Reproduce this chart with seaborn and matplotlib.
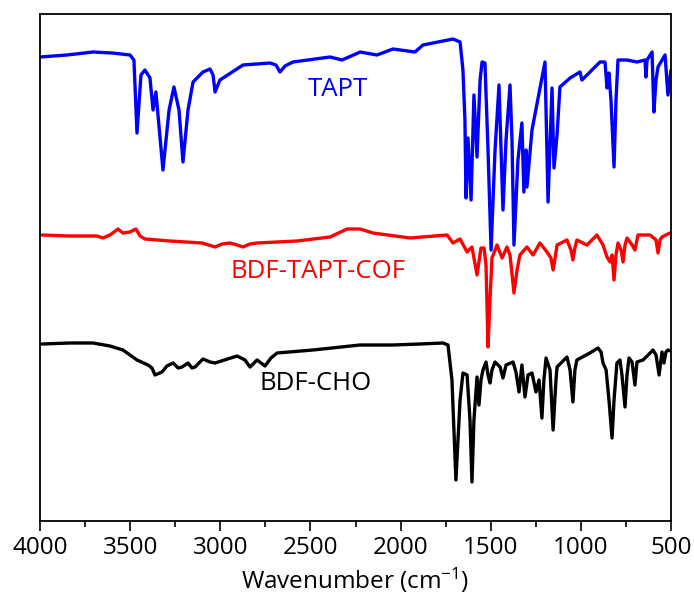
import matplotlib
matplotlib.use('Agg')
import matplotlib.pyplot as plt
import seaborn as sns
import pandas as pd
from matplotlib.ticker import MultipleLocator

# Spektrum verileri (dalga sayisi, bagil siddet)
tapt_wn = [4000, 3850, 3706, 3600, 3501, 3479, 3462, 3440, 3418, 3390, 3373, 3357, 3318, 3284,
           3257, 3229, 3207, 3179, 3151, 3096, 3057, 3040, 3029, 3002, 2874, 2724, 2691, 2669,
           2641, 2597, 2391, 2325, 2236, 2225, 2131, 2042, 1920, 1876, 1709, 1670, 1654, 1643,
           1637, 1626, 1609, 1593, 1576, 1559, 1548, 1532, 1515, 1498, 1476, 1454, 1432, 1415,
           1393, 1382, 1371, 1349, 1327, 1316, 1304, 1299, 1271, 1199, 1182, 1160, 1149, 1132,
           1116, 1060, 1005, 994, 966, 894, 866, 855, 844, 833, 816, 805, 794, 744, 689, 644,
           639, 633, 605, 595, 583, 572, 533, 517, 500]
tapt_y = [464, 466, 469, 468, 466, 461, 388, 446, 451, 443, 411, 429, 351, 411,
          434, 411, 359, 411, 439, 449, 452, 446, 429, 441, 456, 458, 456, 449,
          455, 459, 464, 461, 468, 469, 466, 472, 469, 476, 482, 479, 451, 401,
          323, 383, 321, 426, 364, 441, 459, 458, 371, 271, 371, 436, 311, 381,
          436, 381, 276, 361, 398, 329, 371, 334, 391, 459, 319, 433, 353, 386,
          434, 443, 449, 441, 446, 459, 459, 433, 448, 421, 354, 421, 461, 461, 459, 461,
          444, 461, 469, 409, 441, 454, 466, 426, 451]

cof_wn = [3989, 3834, 3684, 3651, 3612, 3567, 3540, 3501, 3468, 3445, 3418, 3279, 3101, 3029,
          2990, 2946, 2907, 2874, 2835, 2796, 2575, 2391, 2297, 2225, 2153, 1948, 1742, 1709,
          1670, 1631, 1604, 1576, 1554, 1537, 1526, 1515, 1504, 1493, 1465, 1437, 1410, 1393,
          1371, 1354, 1338, 1299, 1265, 1227, 1188, 1166, 1154, 1143, 1132, 1077, 1055, 1044,
          1033, 1022, 966, 911, 877, 855, 838, 827, 816, 805, 794, 777, 766, 755, 744, 716,
          700, 683, 616, 583, 572, 561, 550, 506, 500]
cof_y = [286, 285, 285, 283, 286, 292, 288, 289, 292, 285, 282, 280, 278, 274,
         277, 278, 276, 274, 277, 278, 280, 284, 292, 292, 288, 283, 286, 278,
         282, 269, 274, 246, 273, 273, 256, 174, 221, 263, 276, 263, 274, 266,
         228, 251, 266, 274, 266, 278, 269, 263, 251, 263, 276, 281, 271, 261,
         273, 281, 276, 286, 276, 264, 259, 266, 241, 266, 278, 271, 259, 276, 283, 276,
         271, 286, 286, 281, 268, 281, 284, 288, 287]

cho_wn = [3989, 3834, 3706, 3612, 3540, 3462, 3401, 3379, 3362, 3323, 3296, 3262, 3234, 3212,
          3179, 3157, 3140, 3096, 3057, 3029, 2907, 2863, 2835, 2796, 2774, 2752, 2719, 2685,
          2486, 2225, 2042, 1892, 1765, 1737, 1715, 1693, 1670, 1654, 1631, 1615, 1604, 1593,
          1576, 1565, 1554, 1543, 1526, 1515, 1504, 1493, 1476, 1448, 1432, 1415, 1376, 1360,
          1343, 1327, 1310, 1293, 1271, 1249, 1232, 1216, 1205, 1193, 1171, 1154, 1138, 1132,
          1077, 1060, 1044, 1033, 1022, 950, 905, 888, 877, 860, 844, 827, 816, 800, 783, 772,
          755, 744, 733, 716, 700, 689, 655, 627, 600, 583, 566, 550, 539, 528, 517, 500]
cho_y = [177, 178, 178, 175, 171, 161, 156, 153, 146, 149, 155, 158, 153, 154,
         158, 153, 154, 162, 159, 158, 165, 161, 154, 161, 158, 155, 163, 168,
         171, 176, 176, 177, 178, 176, 141, 41, 121, 148, 146, 101, 39, 101,
         144, 116, 141, 151, 159, 146, 138, 151, 159, 154, 143, 156, 159, 149,
         129, 156, 124, 146, 148, 129, 141, 103, 141, 163, 151, 91, 141, 154,
         164, 151, 119, 151, 161, 168, 173, 169, 158, 151, 121, 83, 121, 158, 161, 146,
         114, 146, 163, 159, 136, 159, 161, 166, 171, 166, 146, 169, 158, 169, 171, 170]

labels = ['TAPT', 'BDF-TAPT-COF', 'BDF-CHO']
colors = ['#0000FF', '#FF0000', '#000000']

sns.set_style('ticks')
plt.rcParams['font.family'] = ['Open Sans', 'DejaVu Sans']
plt.rcParams['mathtext.fontset'] = 'custom'
plt.rcParams['mathtext.rm'] = 'Open Sans'
plt.rcParams['mathtext.it'] = 'Open Sans'

fig, ax = plt.subplots(figsize=(6.94, 5.99), dpi=100)
fig.subplots_adjust(left=40/694, right=671/694, top=1-14/599, bottom=1-521/599)

series = [(tapt_wn, tapt_y), (cof_wn, cof_y), (cho_wn, cho_y)]
for (wn, y), lab, c in zip(series, labels, colors):
    df = pd.DataFrame({'wn': wn, 'y': y})
    sns.lineplot(data=df, x='wn', y='y', ax=ax, color=c, lw=2.4, estimator=None, sort=False)

# Egri etiketleri
ax.text(2347, 431, 'TAPT', color=colors[0], fontsize=18.5, ha='center', va='center')
ax.text(2458, 249, 'BDF-TAPT-COF', color=colors[1], fontsize=18.5, ha='center', va='center')
ax.text(2469, 137, 'BDF-CHO', color=colors[2], fontsize=18.5, ha='center', va='center')

ax.set_xlim(4000, 500)
ax.set_ylim(0, 507)
ax.xaxis.set_major_locator(MultipleLocator(500))
ax.xaxis.set_minor_locator(MultipleLocator(250))
ax.set_yticks([])
ax.set_ylabel('')
ax.set_xlabel('Wavenumber (cm$^{-1}$)', fontsize=17.5, labelpad=4, color='black')
ax.tick_params(axis='x', which='major', direction='out', length=7, width=1.2,
               labelsize=17.5, pad=4, color='black', labelcolor='black')
ax.tick_params(axis='x', which='minor', direction='out', length=4, width=1.2, color='black')
for s in ax.spines.values():
    s.set_visible(True)
    s.set_linewidth(1.3)
    s.set_color('black')

plt.savefig('out.png', dpi=100)
plt.close()
